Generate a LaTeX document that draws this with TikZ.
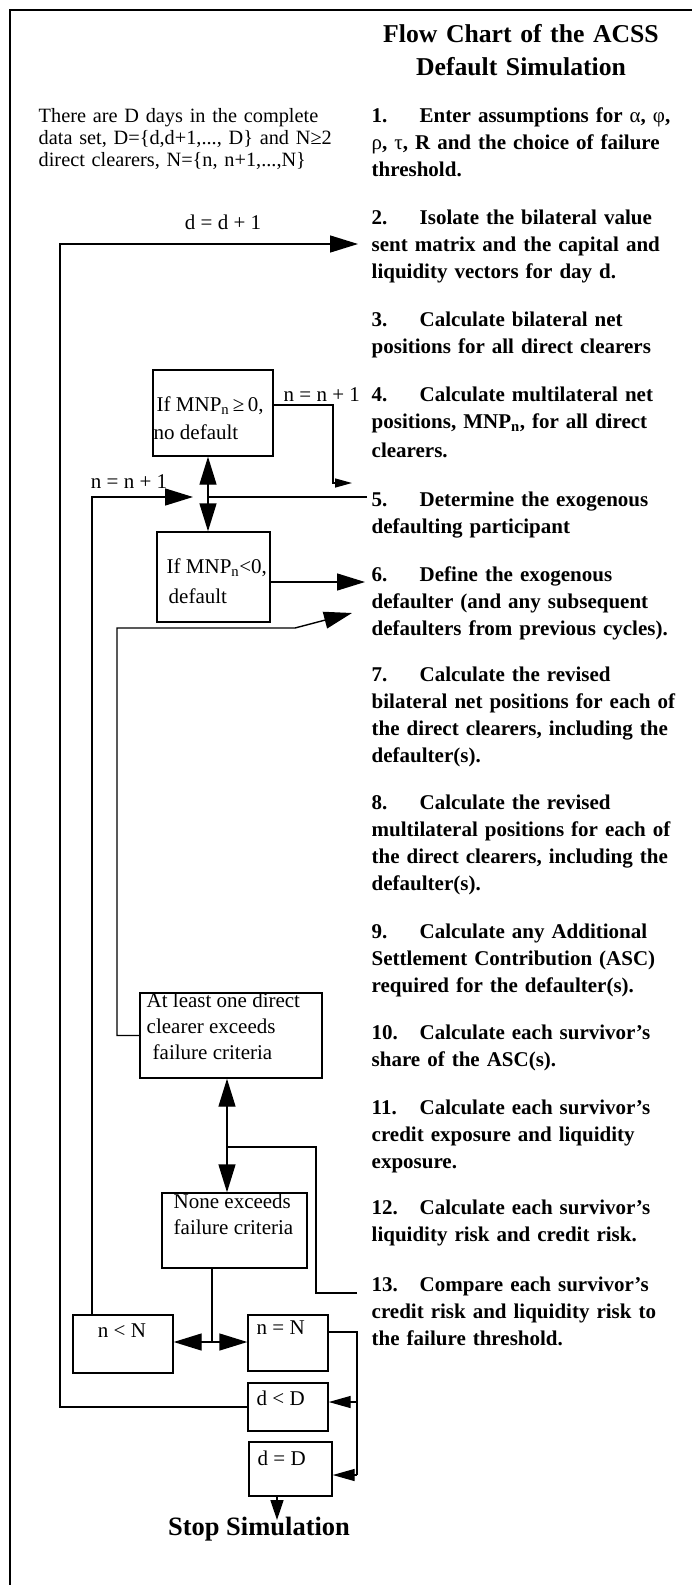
\documentclass[tikz,border=0pt]{standalone}
\usepackage{fontspec}
\setmainfont{Liberation Serif}
\usetikzlibrary{arrows.meta}
\begin{document}
\begin{tikzpicture}[x=1pt,y=-1pt,line width=1.4pt,
  box/.style={draw, rectangle, inner sep=0pt, line width=1.4pt},
  item/.style={anchor=base west, inner sep=0pt, text width=330pt, align=left,
    font=\fontsize{21}{27}\selectfont\bfseries},
  txt/.style={anchor=base west, inner sep=0pt, font=\fontsize{21}{25}\selectfont},
  big/.style={-{Triangle[length=28pt,width=17pt]}},
  small/.style={-{Triangle[length=17pt,width=9pt]}},
  mid/.style={-{Triangle[length=22pt,width=12pt]}},
  stoparrow/.style={-{Triangle[length=20pt,width=13pt]}}
]
\useasboundingbox (0,0) rectangle (692,1585);
% frame
\draw (692,10) -- (10,10) -- (10,1585);

% title
\node[anchor=base, inner sep=0pt, text width=340pt, align=center,
  font=\fontsize{25.7}{33}\selectfont\bfseries] (title) at (521,42)
  {Flow Chart of the ACSS\\ Default Simulation};

% left note
\node[anchor=base west, inner sep=0pt, text width=320pt, align=left,
  font=\fontsize{20.3}{22}\selectfont] (note) at (38,122)
  {There are D days in the complete\\ data set, D=\{d,d+1,..., D\} and N≥2\\ direct clearers, N=\{n, n+1,...,N\}};

% right column steps
\node[item] (i1) at (371,122) {\makebox[48pt][l]{1.}Enter assumptions for {\mdseries α}, {\mdseries φ},\\ {\mdseries ρ}, {\mdseries τ}, R and the choice of failure\\ threshold.};
\node[item] (i2) at (371,224) {\makebox[48pt][l]{2.}Isolate the bilateral value\\ sent matrix and the capital and\\ liquidity vectors for day d.};
\node[item] (i3) at (371,326) {\makebox[48pt][l]{3.}Calculate bilateral net\\ positions for all direct clearers};
\node[item] (i4) at (371,401) {\makebox[48pt][l]{4.}Calculate multilateral net\\ positions, MNP\textsubscript{n}, for all direct\\[2pt] clearers.};
\node[item] (i5) at (371,506) {\makebox[48pt][l]{5.}Determine the exogenous\\ defaulting participant};
\node[item] (i6) at (371,581) {\makebox[48pt][l]{6.}Define the exogenous\\ defaulter (and any subsequent\\ defaulters from previous cycles).};
\node[item] (i7) at (371,681) {\makebox[48pt][l]{7.}Calculate the revised\\ bilateral net positions for each of\\ the direct clearers, including the\\ defaulter(s).};
\node[item] (i8) at (371,809) {\makebox[48pt][l]{8.}Calculate the revised\\ multilateral positions for each of\\ the direct clearers, including the\\ defaulter(s).};
\node[item] (i9) at (371,938) {\makebox[48pt][l]{9.}Calculate any Additional\\ Settlement Contribution (ASC)\\ required for the defaulter(s).};
\node[item] (i10) at (371,1039) {\makebox[48pt][l]{10.}Calculate each survivor’s\\ share of the ASC(s).};
\node[item] (i11) at (371,1114) {\makebox[48pt][l]{11.}Calculate each survivor’s\\ credit exposure and liquidity\\ exposure.};
\node[item] (i12) at (371,1214) {\makebox[48pt][l]{12.}Calculate each survivor’s\\ liquidity risk and credit risk.};
\node[item] (i13) at (371,1291) {\makebox[48pt][l]{13.}Compare each survivor’s\\ credit risk and liquidity risk to\\ the failure threshold.};

% boxes
\node[box, minimum width=120pt, minimum height=86pt] (bge) at (213,413) {};
\node[box, minimum width=113pt, minimum height=90pt] (blt) at (213.5,577) {};
\node[box, minimum width=182pt, minimum height=85pt] (bal) at (231,1035.5) {};
\node[box, minimum width=145pt, minimum height=75pt] (bne) at (234.5,1230.5) {};
\node[box, minimum width=100pt, minimum height=58pt] (bnlt) at (123,1344) {};
\node[box, minimum width=80pt, minimum height=56pt] (bneq) at (288,1343) {};
\node[box, minimum width=80pt, minimum height=48pt] (bdlt) at (288,1407) {};
\node[box, minimum width=83pt, minimum height=54pt] (bdeq) at (290.5,1469) {};

% box texts
\node[txt] (tge1) at (156,411) {If MNP\textsubscript{n}\,≥\,0,};
\node[txt] (tge2) at (153,439) {no default};
\node[txt] (tlt1) at (166,573) {If MNP\textsubscript{n}<0,};
\node[txt] (tlt2) at (168,603) {default};
\node[txt] (tal1) at (146,1007) {At least one direct};
\node[txt] (tal2) at (146,1033) {clearer exceeds};
\node[txt] (tal3) at (152,1059) {failure criteria};
\node[txt] (tne1) at (173,1208) {None exceeds};
\node[txt] (tne2) at (173,1234) {failure criteria};
\node[txt, anchor=base] (tnlt) at (122,1337) {n < N};
\node[txt] (tneq) at (256,1334) {n = N};
\node[txt] (tdlt) at (256,1405) {d < D};
\node[txt] (tdeq) at (257,1465) {d = D};
\node[anchor=base, inner sep=0pt, font=\fontsize{26.5}{30}\selectfont\bfseries] (stop) at (259,1535) {Stop Simulation};

% connector labels
\node[txt, anchor=base] (ld) at (223,229) {d = d + 1};
\node[txt] (ln1) at (283,401) {n = n + 1};
\node[txt, anchor=base] (ln2) at (129,488) {n = n + 1};

% helper coordinates
\coordinate (t2) at (358,244);
\coordinate (t5a) at (352,483);
\coordinate (s5) at (367,497);
\coordinate (j1) at (208,497);
\coordinate (x92) at (92,0);
\coordinate (t5b) at (193,497);
\coordinate (t6) at (365,582);
\coordinate (t6b) at (352,613);
\coordinate (s13) at (357,1293);
\coordinate (j2) at (227,1147);
\coordinate (j3) at (212,1342);
\coordinate (r1) at (357,1402);
\coordinate (r2) at (357,1475);
\coordinate (x277) at (277,0);
\coordinate (tstop) at (277,1520);

% d loop
\draw[big] (bdlt.west) -| (60,244) -- (t2);
% n = n + 1 (top)
\draw[small] ([yshift=8pt]bge.east) -| (333,483) -- (t5a);
% step 5 to the two MNP boxes
\draw (s5) -- (j1);
\draw[big] (j1) -- (bge.south -| j1);
\draw[big] (j1) -- (blt.north -| j1);
% n loop
\draw[big] (bnlt.north -| x92) -- (92,497) -- (t5b);
% default -> step 6
\draw[big] ([yshift=-5pt]blt.east) -- (t6);
% at least one -> step 6
\draw[big] (bal.west) -| (117,628) -- (295,628) -- (t6b);
% step 13 -> criteria boxes
\draw (s13) -| (316,1147) -- (j2);
\draw[big] (j2) -- (bal.south -| j2);
\draw[big] (j2) -- (bne.north -| j2);
% none exceeds -> n<N / n=N
\draw (bne.south -| j3) -- (j3);
\draw[big] (j3) -- (bnlt.east |- j3);
\draw[big] (j3) -- (bneq.west |- j3);
% n = N -> d boxes
\draw ([yshift=11pt]bneq.east) -| (r2);
\draw[mid] (r1) -- (bdlt.east |- r1);
\draw[mid] (r2) -- (bdeq.east |- r2);
% stop
\draw[stoparrow] (bdeq.south -| x277) -- (tstop);
\end{tikzpicture}
\end{document}
